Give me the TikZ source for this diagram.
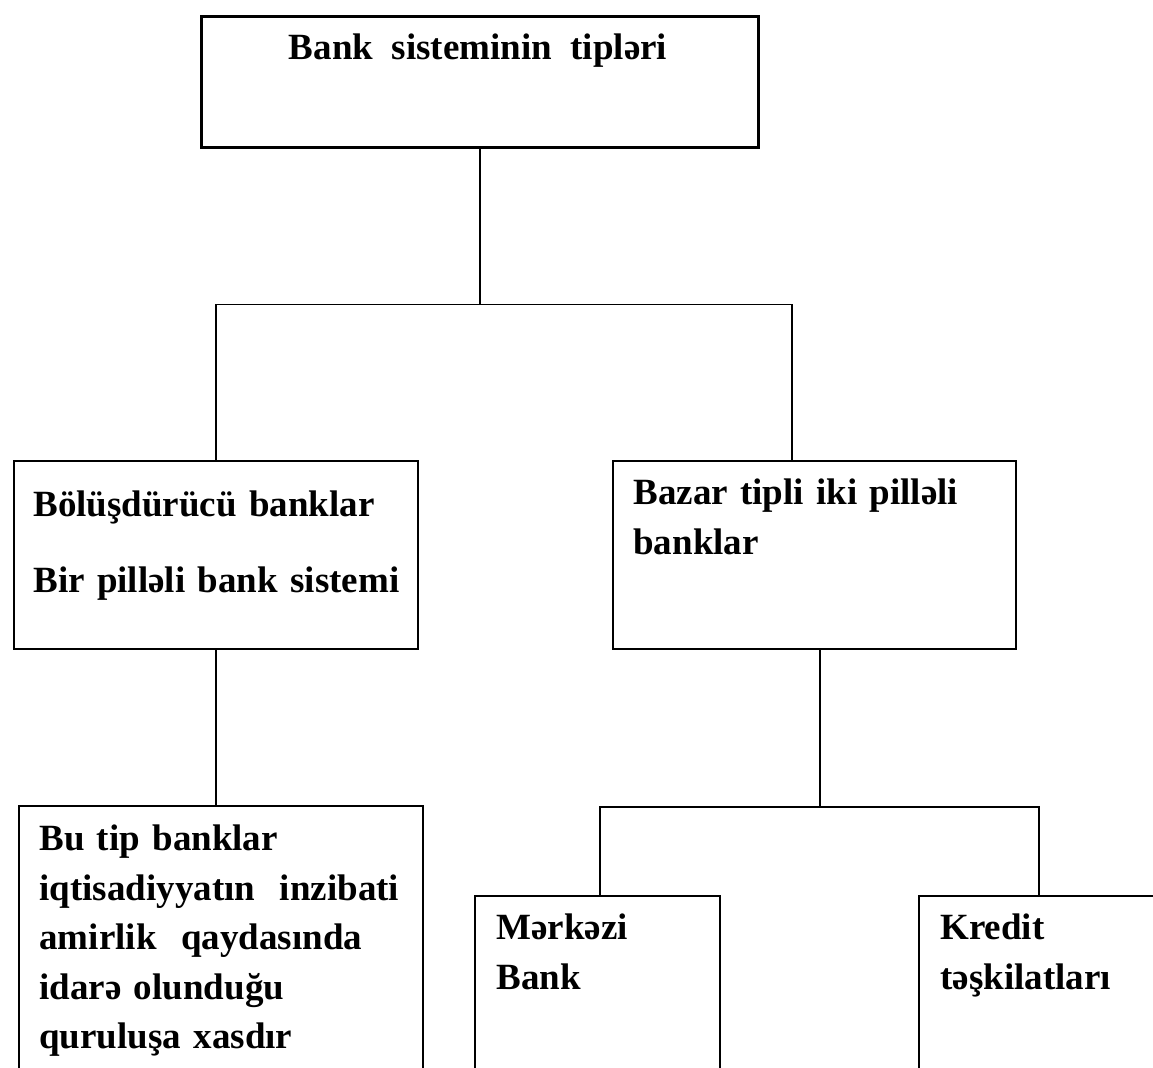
\documentclass[tikz,border=0pt]{standalone}
\usepackage{fontspec}
\setmainfont{Liberation Serif}
\usetikzlibrary{calc}

\tikzset{
  box/.style={draw, line width=1pt, inner sep=0pt, anchor=north west},
  boxtext/.style={anchor=base west, inner sep=0pt, align=left, text width=195pt,
    font=\fontsize{18.5}{24.7}\selectfont\bfseries},
  link/.style={line width=0.9pt}
}

\begin{document}
\begin{tikzpicture}[x=0.5pt, y=-0.5pt]
  \clip (0,0) rectangle (1153,1068);

  % boxes
  \node[box, line width=1.3pt, minimum width=278.5pt, minimum height=65.5pt] (top) at (200,15) {};
  \node[box, minimum width=202pt, minimum height=94pt] (left) at (13,460) {};
  \node[box, minimum width=201.5pt, minimum height=94pt] (right) at (612,460) {};
  \node[box, minimum width=202pt, minimum height=150pt] (bl) at (18,805) {};
  \node[box, minimum width=122.5pt, minimum height=100pt] (mb) at (474,895) {};
  \node[box, minimum width=150pt, minimum height=100pt] (kt) at (918,895) {};

  % texts
  \node[anchor=base, inner sep=0pt, font=\fontsize{18.5}{24.7}\selectfont\bfseries] (toptext) at (478,60)
    {Bank\ \ sisteminin\ \ tipləri};
  \node[boxtext] (lefttext) at (33,517) {Bölüşdürücü banklar\\[13.3pt] Bir pilləli bank sistemi};
  \node[boxtext] (righttext) at (633,505) {Bazar tipli iki pilləli\\ banklar};
  \node[boxtext] (bltext) at (39,851)
    {Bu tip banklar\\ iqtisadiyyatın\ \ inzibati\\ amirlik\ \ qaydasında\\ idarə olunduğu\\ quruluşa xasdır};
  \node[boxtext, text width=110pt] (mbtext) at (496,940) {Mərkəzi\\ Bank};
  \node[boxtext, text width=110pt] (kttext) at (940,940) {Kredit\\ təşkilatları};

  % connectors
  \coordinate (rightin) at ($(right.north west)+(180,0)$);
  \coordinate (rightout) at ($(right.south west)+(208,0)$);
  \coordinate (mbin) at ($(mb.north west)+(126,0)$);
  \coordinate (ktin) at ($(kt.north west)+(121,0)$);

  \draw[link] (top.south) -- ++(0,156) coordinate (fork1);
  \draw[link] (left.north) |- (fork1) -| (rightin);
  \draw[link] (left.south) -- (left.south |- bl.north);
  \draw[link] (rightout) -- ++(0,157) coordinate (fork2);
  \draw[link] (mbin) |- (fork2) -| (ktin);
\end{tikzpicture}
\end{document}
